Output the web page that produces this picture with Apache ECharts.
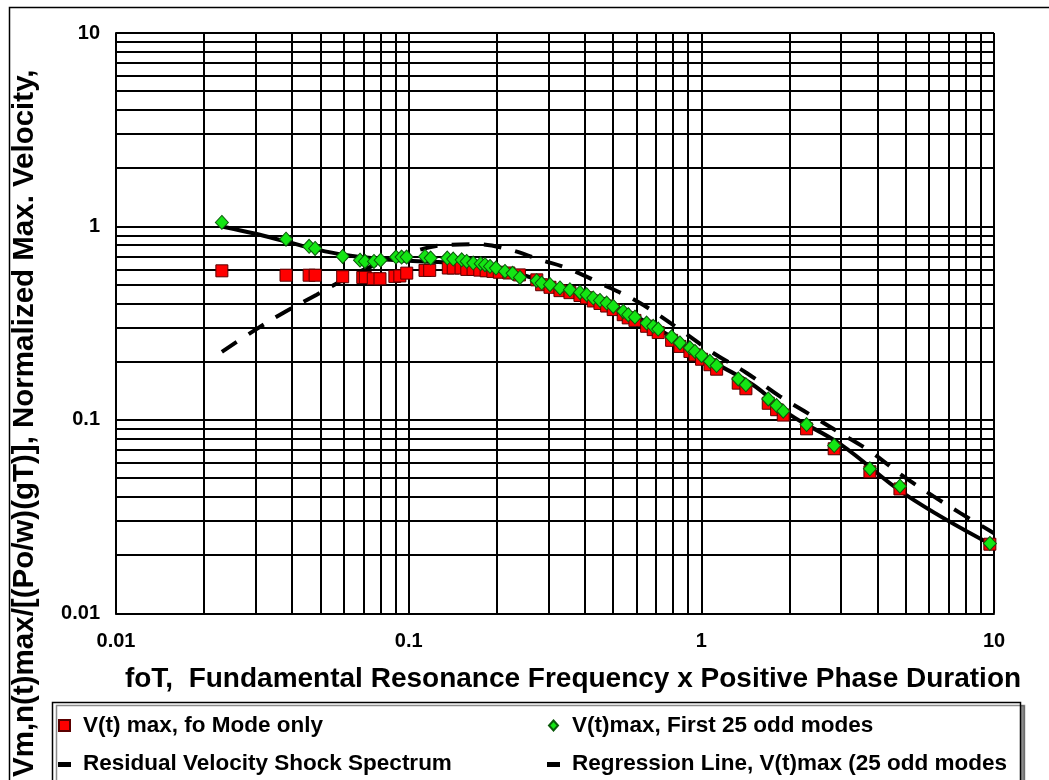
<!DOCTYPE html>
<html>
<head>
<meta charset="utf-8">
<title>Normalized Max. Velocity vs foT</title>
<script src="https://cdn.jsdelivr.net/npm/echarts@6/dist/echarts.min.js"></script>
<style>
  html, body { margin: 0; padding: 0; background: #fff; }
  #velocityChart { width: 1049px; height: 780px; }
</style>
</head>
<body>
<div id="velocityChart"></div>
<script>
// V(t) max, fo mode only
const foModeX = [0.0230, 0.0381, 0.0457, 0.0479, 0.0595, 0.0697, 0.0711, 0.0757, 0.0798, 0.0897, 0.0933, 0.0985,
  0.1137, 0.1180, 0.1366, 0.1420, 0.1510, 0.1580, 0.1660, 0.1750, 0.1840, 0.1940, 0.2040, 0.2200, 0.2390, 0.2740,
  0.2847, 0.3040, 0.3288, 0.3557, 0.3848, 0.4056, 0.4273, 0.4504, 0.4748, 0.5000, 0.5409, 0.5626, 0.5931, 0.6502,
  0.6850, 0.7123, 0.7916, 0.8450, 0.9141, 0.9508, 1.002, 1.070, 1.128, 1.337, 1.420, 1.693, 1.808, 1.905, 2.289,
  2.844, 3.767, 4.771, 9.68]
const foModeY = [0.59, 0.56, 0.56, 0.56, 0.55, 0.545, 0.545, 0.537, 0.537, 0.552, 0.555, 0.574,
  0.593, 0.593, 0.61, 0.61, 0.61, 0.60, 0.60, 0.595, 0.59, 0.586, 0.58, 0.575, 0.562, 0.53,
  0.50, 0.485, 0.466, 0.455, 0.44, 0.428, 0.412, 0.40, 0.388, 0.372, 0.35, 0.337, 0.327, 0.305,
  0.293, 0.283, 0.258, 0.240, 0.226, 0.217, 0.206, 0.193, 0.183, 0.155, 0.145, 0.122, 0.113, 0.106, 0.090,
  0.071, 0.054, 0.044, 0.0228]

// V(t)max, first 25 odd modes
const oddModesX = [0.0230, 0.0381, 0.0457, 0.0479, 0.0595, 0.0682, 0.0709, 0.0761, 0.0802, 0.0905, 0.0946, 0.0984,
  0.1137, 0.1189, 0.1355, 0.1420, 0.1518, 0.1578, 0.1662, 0.1762, 0.1823, 0.1896, 0.1987, 0.2133, 0.2266, 0.2400,
  0.2737, 0.2847, 0.3040, 0.3288, 0.3557, 0.3848, 0.4056, 0.4273, 0.4504, 0.4748, 0.5000, 0.5409, 0.5626, 0.5931,
  0.6502, 0.6850, 0.7123, 0.7916, 0.8450, 0.9141, 0.9508, 1.002, 1.070, 1.128, 1.337, 1.420, 1.693, 1.808, 1.905,
  2.289, 2.844, 3.767, 4.771, 9.68]
const oddModesY = [1.05, 0.86, 0.79, 0.77, 0.70, 0.67, 0.66, 0.66, 0.67, 0.695, 0.695, 0.695,
  0.70, 0.687, 0.687, 0.679, 0.673, 0.66, 0.647, 0.642, 0.635, 0.622, 0.610, 0.586, 0.573, 0.545,
  0.525, 0.51, 0.50, 0.481, 0.471, 0.456, 0.444, 0.427, 0.415, 0.402, 0.386, 0.364, 0.350, 0.340,
  0.317, 0.305, 0.295, 0.269, 0.250, 0.236, 0.226, 0.215, 0.201, 0.191, 0.163, 0.152, 0.1285, 0.1187, 0.111,
  0.0947, 0.0738, 0.0559, 0.0455, 0.0230]

// Residual velocity shock spectrum
const residualX = [0.023, 0.030, 0.038, 0.0485, 0.063, 0.08, 0.1, 0.131, 0.171, 0.222, 0.281, 0.3465, 0.4504,
  0.617, 0.845, 1.098, 1.428, 1.856, 2.35, 2.976, 3.767, 4.895, 6.2, 7.65, 10]
const residualY = [0.225, 0.293, 0.364, 0.444, 0.552, 0.65, 0.73, 0.80, 0.81, 0.758, 0.673, 0.61, 0.51,
  0.402, 0.293, 0.222, 0.175, 0.1325, 0.1067, 0.0858, 0.0689, 0.0512, 0.0404, 0.0331, 0.026]

// Regression line, V(t)max (25 odd modes)
const regressionX = [0.023, 0.03, 0.038, 0.048, 0.06, 0.08, 0.1, 0.15, 0.2, 0.3, 0.5, 0.7, 1, 1.5, 2, 3, 5, 10]
const regressionY = [1.0, 0.917, 0.837, 0.764, 0.714, 0.68, 0.665, 0.645, 0.61, 0.51, 0.39, 0.30, 0.215, 0.152,
  0.107, 0.0746, 0.0410, 0.0223]

const minorMultipliers = [2, 3, 4, 5, 6, 7, 8, 9]
const xDecades = [0.01, 0.1, 1]
const yDecades = [0.01, 0.1, 1]

const X_TITLE = 'foT,  Fundamental Resonance Frequency x Positive Phase Duration'
const Y_TITLE = 'Vm,n(t)max/[(Po/w)(gT)], Normalized Max. Velocity,'
const NAME_FO = 'V(t) max, fo Mode only'
const NAME_ODD = 'V(t)max, First 25 odd modes'
const NAME_RES = 'Residual Velocity Shock Spectrum'
const NAME_REG = 'Regression Line, V(t)max (25 odd modes'

const FONT = '"Liberation Sans", Arial, sans-serif'
const pairs = (xs, ys) => xs.map((x, i) => [x, ys[i]])

// icon paths carry corner points so every icon keeps the same 13x11 box
const ICON_SQUARE = 'path://M0,0M13,11M1,0L12,0L12,11L1,11Z'
const ICON_DIAMOND = 'path://M0,0M13,11M6.5,0.5L11,5.5L6.5,10.5L2,5.5Z'
const ICON_DASH = 'path://M0,0M13,11M0,4L13,4L13,9L0,9Z'

const minorGridLines = () => {
  const lines = []
  xDecades.forEach(d => minorMultipliers.forEach(m => lines.push({ xAxis: +(d * m).toPrecision(3) })))
  yDecades.forEach(d => minorMultipliers.forEach(m => lines.push({ yAxis: +(d * m).toPrecision(3) })))
  return lines
}

const axisCommon = {
  type: 'log',
  logBase: 10,
  min: 0.01,
  max: 10,
  axisLine: { show: true, lineStyle: { color: '#000', width: 2 } },
  axisTick: { show: false },
  splitLine: { show: true, lineStyle: { color: '#000', width: 2 } }
}

const legendCommon = {
  orient: 'vertical',
  top: 714,
  padding: 0,
  itemGap: 15,
  itemWidth: 13,
  itemHeight: 11,
  selectedMode: false,
  textStyle: { fontSize: 22.5, fontWeight: 'bold', color: '#000', fontFamily: FONT, padding: [0, 0, 0, 7] }
}

const initVelocityChart = () => {
  const velocityChart = echarts.init(document.getElementById('velocityChart'))
  const velocityOption = {
    backgroundColor: '#fff',
    animation: false,
    grid: { left: 116, right: 55, top: 33, bottom: 166 },
    graphic: [
      {
        type: 'rect', z: 0, silent: true,
        shape: { x: 9.5, y: 7.5, width: 1100, height: 900 },
        style: { fill: 'none', stroke: '#000', lineWidth: 1.5 }
      },
      {
        type: 'rect', z: 0, silent: true,
        shape: { x: 52.5, y: 702.5, width: 968, height: 120 },
        style: {
          fill: '#fff', stroke: '#000', lineWidth: 1.5,
          shadowColor: 'rgba(0,0,0,0.45)', shadowOffsetX: 4, shadowOffsetY: 3, shadowBlur: 0
        }
      }
    ],
    legend: [
      Object.assign({}, legendCommon, {
        left: 57,
        data: [{ name: NAME_FO, icon: ICON_SQUARE }, { name: NAME_RES, icon: ICON_DASH }]
      }),
      Object.assign({}, legendCommon, {
        left: 546,
        data: [{ name: NAME_ODD, icon: ICON_DIAMOND }, { name: NAME_REG, icon: ICON_DASH }]
      })
    ],
    xAxis: Object.assign({}, axisCommon, {
      name: X_TITLE,
      nameLocation: 'middle',
      nameGap: 52,
      nameTextStyle: { fontSize: 28, fontWeight: 'bold', color: '#000', fontFamily: FONT, padding: [0, 0, 0, 36] },
      axisLabel: { fontSize: 20, fontWeight: 'bold', color: '#000', fontFamily: FONT, margin: 18 }
    }),
    yAxis: Object.assign({}, axisCommon, {
      name: Y_TITLE,
      nameLocation: 'middle',
      nameRotate: 90,
      nameGap: 76,
      nameTextStyle: { fontSize: 29.5, fontWeight: 'bold', color: '#000', fontFamily: FONT, padding: [0, 200, 0, 0] },
      axisLabel: { fontSize: 20, fontWeight: 'bold', color: '#000', fontFamily: FONT, margin: 16 }
    }),
    series: [
      {
        name: NAME_RES,
        type: 'line',
        z: 10,
        data: pairs(residualX, residualY),
        smooth: 0.4,
        symbol: 'none',
        color: '#000',
        lineStyle: { color: '#000', width: 4, type: [18, 14] },
        markLine: {
          silent: true,
          symbol: ['none', 'none'],
          label: { show: false },
          lineStyle: { color: '#000', width: 2, type: 'solid' },
          data: minorGridLines()
        }
      },
      {
        name: NAME_REG,
        type: 'line',
        z: 11,
        data: pairs(regressionX, regressionY),
        smooth: 0.4,
        symbol: 'none',
        color: '#000',
        lineStyle: { color: '#000', width: 4 }
      },
      {
        name: NAME_FO,
        type: 'scatter',
        z: 12,
        data: pairs(foModeX, foModeY),
        symbol: 'rect',
        symbolSize: 12,
        itemStyle: { color: '#ff0000', borderColor: '#5a0000', borderWidth: 1, opacity: 1 }
      },
      {
        name: NAME_ODD,
        type: 'scatter',
        z: 13,
        data: pairs(oddModesX, oddModesY),
        symbol: 'diamond',
        symbolSize: [13, 14],
        itemStyle: { color: '#14e614', borderColor: '#0b5a0b', borderWidth: 1, opacity: 1 }
      }
    ]
  }
  velocityChart.setOption(velocityOption)
}

initVelocityChart()
</script>
</body>
</html>
